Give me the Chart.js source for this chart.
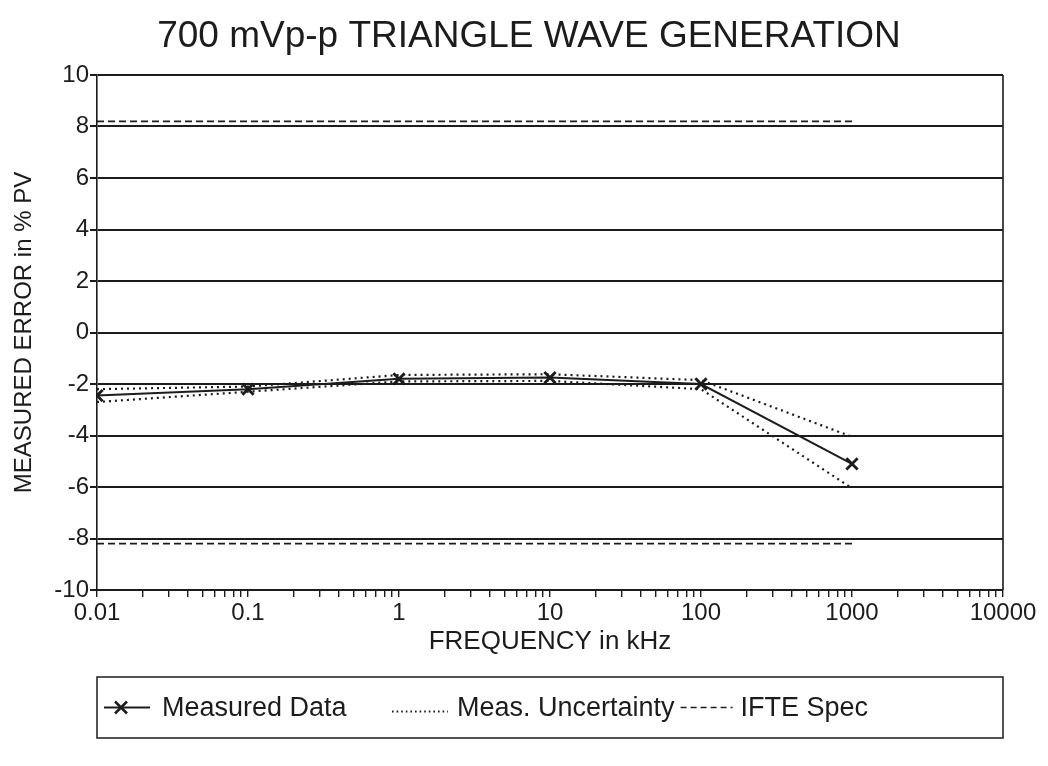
<!DOCTYPE html>
<html>
<head>
<meta charset="utf-8">
<script src="https://cdn.jsdelivr.net/npm/chart.js@4/dist/chart.umd.min.js"></script>
<style>
  html, body { margin: 0; padding: 0; background: #ffffff; }
  #wrap { width: 1048px; height: 766px; position: relative; }
</style>
</head>
<body>
<div id="wrap"><canvas id="c" width="1048" height="766"></canvas></div>
<script>
// ---- data ----
const chartTitle = "700 mVp-p TRIANGLE WAVE GENERATION";
const xTitle = "FREQUENCY in kHz";
const yTitle = "MEASURED ERROR in % PV";
const frequencies = [0.01, 0.1, 1, 10, 100, 1000];           // kHz
const measuredData = [-2.45, -2.2, -1.8, -1.75, -2.0, -5.1];   // % PV
const uncertaintyUpper = [-2.2, -2.1, -1.65, -1.62, -1.85, -4.05];
const uncertaintyLower = [-2.7, -2.3, -1.9, -1.88, -2.2, -6.05];
const specFrequencies = [0.01, 1000];
const specUpper = [8.2, 8.2];
const specLower = [-8.2, -8.2];
const xTickLabels = ["0.01", "0.1", "1", "10", "100", "1000", "10000"];
const yTickValues = [-10, -8, -6, -4, -2, 0, 2, 4, 6, 8, 10];
const legendLabels = ["Measured Data", "Meas. Uncertainty", "IFTE Spec"];

const INK = '#1c1c1c';
const FONT = '"Liberation Sans", Arial, sans-serif';

const pts = (xs, ys) => xs.map((x, i) => ({ x: x, y: ys[i] }));
const majorValues = xTickLabels.map(Number);

const overlay = {
  id: 'overlay',
  afterDraw(chart) {
    const ctx = chart.ctx;
    const a = chart.chartArea;
    ctx.save();
    // title
    ctx.fillStyle = INK;
    ctx.font = '37px ' + FONT;
    ctx.textAlign = 'center';
    ctx.textBaseline = 'middle';
    ctx.fillText(chartTitle, 529, 37);
    // right frame line
    ctx.strokeStyle = INK;
    ctx.lineWidth = 1.6;
    ctx.beginPath();
    ctx.moveTo(a.right, a.top);
    ctx.lineTo(a.right, a.bottom);
    ctx.stroke();
    // legend box
    const bx = 97, by = 677, bw = 906, bh = 61, ly = by + bh / 2;
    ctx.lineWidth = 1.5;
    ctx.strokeRect(bx, by, bw, bh);
    ctx.font = '27px ' + FONT;
    ctx.textAlign = 'left';
    ctx.textBaseline = 'middle';
    // measured sample
    ctx.lineWidth = 2;
    ctx.setLineDash([]);
    ctx.beginPath(); ctx.moveTo(104, ly); ctx.lineTo(150, ly); ctx.stroke();
    ctx.lineWidth = 2.5;
    ctx.beginPath();
    ctx.moveTo(115, ly - 6); ctx.lineTo(127, ly + 6);
    ctx.moveTo(127, ly - 6); ctx.lineTo(115, ly + 6);
    ctx.stroke();
    ctx.fillText(legendLabels[0], 162, ly + 1);
    // uncertainty sample
    ctx.lineWidth = 1.8;
    ctx.setLineDash([1.6, 3]);
    ctx.beginPath(); ctx.moveTo(392, ly + 4); ctx.lineTo(448, ly + 4); ctx.stroke();
    ctx.setLineDash([]);
    ctx.fillText(legendLabels[1], 457, ly + 1);
    const e1 = 457 + ctx.measureText(legendLabels[1]).width;
    // spec sample
    ctx.lineWidth = 1.5;
    ctx.setLineDash([6, 4]);
    ctx.beginPath(); ctx.moveTo(e1 + 6, ly); ctx.lineTo(e1 + 58, ly); ctx.stroke();
    ctx.setLineDash([]);
    ctx.fillText(legendLabels[2], e1 + 66, ly + 1);
    ctx.restore();
  }
};

new Chart(document.getElementById('c'), {
  type: 'line',
  data: {
    datasets: [
      {
        label: legendLabels[0],
        data: pts(frequencies, measuredData),
        borderColor: INK, backgroundColor: INK,
        borderWidth: 2,
        pointStyle: 'crossRot', pointRadius: 8, pointBorderWidth: 2.8,
        pointBorderColor: INK
      },
      {
        label: legendLabels[1],
        data: pts(frequencies, uncertaintyUpper),
        borderColor: INK, borderWidth: 2.2, borderDash: [2, 4],
        pointRadius: 0
      },
      {
        label: legendLabels[1] + ' (lower)',
        data: pts(frequencies, uncertaintyLower),
        borderColor: INK, borderWidth: 2.2, borderDash: [2, 4],
        pointRadius: 0
      },
      {
        label: legendLabels[2],
        data: pts(specFrequencies, specUpper),
        borderColor: INK, borderWidth: 1.6, borderDash: [7, 4],
        pointRadius: 0
      },
      {
        label: legendLabels[2] + ' (lower)',
        data: pts(specFrequencies, specLower),
        borderColor: INK, borderWidth: 1.6, borderDash: [7, 4],
        pointRadius: 0
      }
    ]
  },
  options: {
    responsive: false,
    animation: false,
    layout: { padding: { top: 75, right: 45, bottom: 0, left: 0 } },
    plugins: {
      legend: { display: false },
      title: { display: false },
      tooltip: { enabled: false }
    },
    scales: {
      x: {
        type: 'logarithmic',
        min: 0.01, max: 10000,
        afterFit(scale) { scale.height = 176; },
        afterBuildTicks(scale) {
          const t = [];
          for (let d = 0; d < majorValues.length - 1; d++) {
            for (let m = 1; m <= 9; m++) t.push({ value: majorValues[d] * m });
          }
          t.push({ value: majorValues[majorValues.length - 1] });
          scale.ticks = t;
        },
        ticks: {
          autoSkip: false, maxRotation: 0, minRotation: 0,
          color: INK, padding: 2,
          font: { family: FONT, size: 24 },
          callback(v) {
            const i = majorValues.findIndex(m => Math.abs(m - v) / m < 1e-6);
            return i >= 0 ? xTickLabels[i] : '';
          }
        },
        grid: { drawOnChartArea: false, drawTicks: true, tickLength: 7, color: INK, lineWidth: 1.4 },
        border: { display: true, color: INK, width: 2 },
        title: {
          display: true, text: xTitle, color: INK,
          font: { family: FONT, size: 26 },
          padding: { top: 0, bottom: 109 }
        }
      },
      y: {
        min: -10, max: 10,
        afterFit(scale) { scale.width = 97; },
        afterBuildTicks(scale) { scale.ticks = yTickValues.map(v => ({ value: v })); },
        ticks: {
          color: INK, padding: 1,
          font: { family: FONT, size: 24 }
        },
        grid: { drawOnChartArea: true, drawTicks: true, tickLength: 7, color: INK, lineWidth: 2 },
        border: { display: true, color: INK, width: 1.6 },
        title: {
          display: true, text: yTitle, color: INK,
          font: { family: FONT, size: 24 },
          padding: { top: 10, bottom: 0 }
        }
      }
    }
  },
  plugins: [overlay]
});
</script>
</body>
</html>
